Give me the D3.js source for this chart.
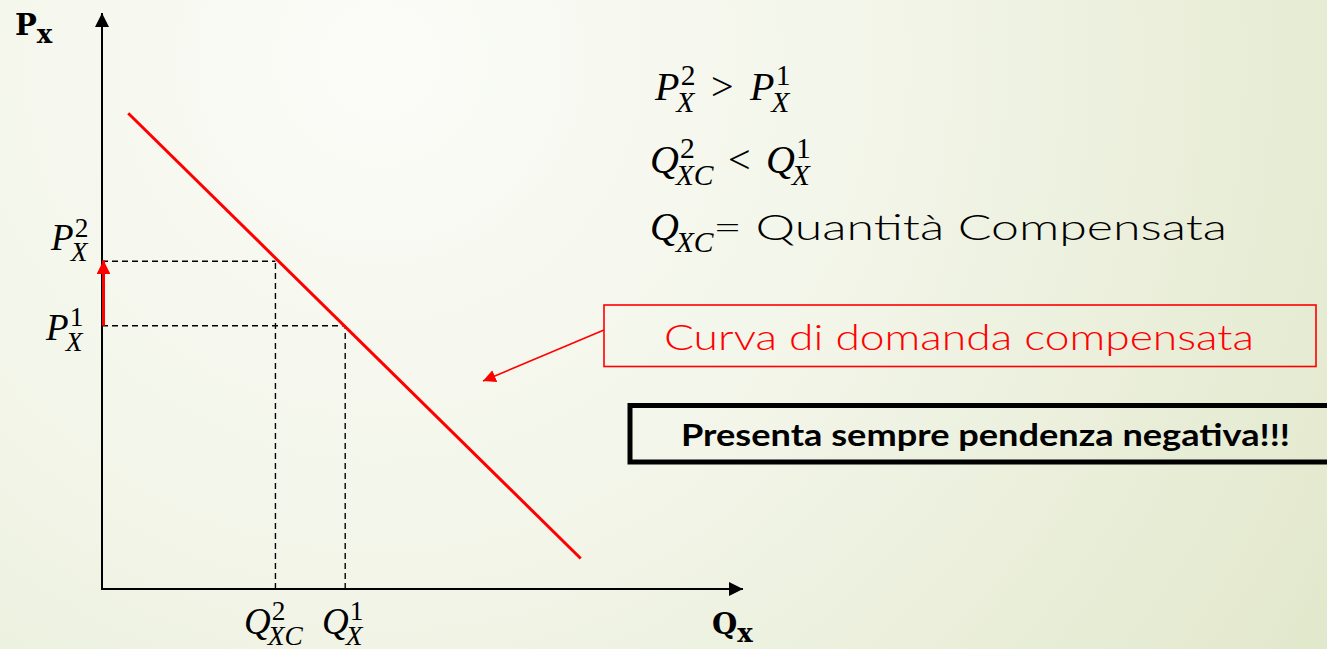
<!DOCTYPE html>
<html>
<head>
<meta charset="utf-8">
<script src="https://cdn.jsdelivr.net/npm/d3@7"></script>
<style>
  html, body { margin: 0; padding: 0; overflow: hidden; background: #f3f5ea; }
  svg { display: block; }
</style>
</head>
<body>
<svg id="chart" width="1327" height="649"></svg>
<script>
// ---------------- DATA ----------------
const quantityDomain = [0, 100];
const priceDomain = [0, 100];
// compensated demand curve endpoints (Q, P)
const demandQ = [4.1, 74.8];
const demandP = [82.6, 5.3];
// price levels: P1, P2
const priceLevels = [45.7, 56.9];
const priceLabels = ["1", "2"];
// quantity levels: Q1 (at P1), Q2 (at P2)
const quantityLevels = [38.0, 27.1];
const quantityLabelSubs = ["X", "XC"];
const quantityLabelSups = ["1", "2"];
const axisLabelP = ["P", "x"];
const axisLabelQ = ["Q", "x"];
const boxRedText = "Curva di domanda compensata";
const boxBlackText = "Presenta sempre pendenza negativa!!!";
const defText = "= Quantità Compensata";

// ---------------- SETUP ----------------
const svg = d3.select("#chart");
const W = 1327, H = 649;
const MATH = "'Liberation Serif', 'DejaVu Serif', serif";
const SANS = "Lato, 'Open Sans', sans-serif";

const defs = svg.append("defs");
const grad = defs.append("radialGradient").attr("id", "bg")
  .attr("gradientUnits", "userSpaceOnUse")
  .attr("cx", 380).attr("cy", 60).attr("r", 1150);
grad.append("stop").attr("offset", "0").attr("stop-color", "#fbfcf8");
grad.append("stop").attr("offset", "0.45").attr("stop-color", "#f2f5e8");
grad.append("stop").attr("offset", "1").attr("stop-color", "#e1e7ca");
svg.append("rect").attr("width", W).attr("height", H).attr("fill", "url(#bg)");

defs.append("marker").attr("id", "arrBlack").attr("viewBox", "0 0 10 10")
  .attr("refX", 10).attr("refY", 5).attr("markerWidth", 7).attr("markerHeight", 7)
  .attr("markerUnits", "strokeWidth").attr("orient", "auto")
  .append("path").attr("d", "M0,0 L10,5 L0,10 Z").attr("fill", "#000");
defs.append("marker").attr("id", "arrRed").attr("viewBox", "0 0 10 10")
  .attr("refX", 10).attr("refY", 5).attr("markerWidth", 4.6).attr("markerHeight", 4.6)
  .attr("markerUnits", "strokeWidth").attr("orient", "auto")
  .append("path").attr("d", "M0,0 L10,5 L0,10 Z").attr("fill", "#ff0000");
defs.append("marker").attr("id", "arrRedThin").attr("viewBox", "0 0 10 10")
  .attr("refX", 10).attr("refY", 5).attr("markerWidth", 8).attr("markerHeight", 8)
  .attr("markerUnits", "strokeWidth").attr("orient", "auto")
  .append("path").attr("d", "M0,0 L10,5 L0,10 Z").attr("fill", "#ff0000");

const x = d3.scaleLinear().domain(quantityDomain).range([102, 742]);
const y = d3.scaleLinear().domain(priceDomain).range([589, 13]);

// ---------------- AXES ----------------
svg.append("line").attr("x1", x(0)).attr("y1", y(0) + 1).attr("x2", x(0)).attr("y2", y(100))
  .attr("stroke", "#000").attr("stroke-width", 2).attr("marker-end", "url(#arrBlack)");
svg.append("line").attr("x1", x(0) - 1).attr("y1", y(0)).attr("x2", x(100) + 1).attr("y2", y(0))
  .attr("stroke", "#000").attr("stroke-width", 2).attr("marker-end", "url(#arrBlack)");

// ---------------- DASHED GUIDES ----------------
priceLevels.forEach((p, i) => {
  const q = quantityLevels[i];
  svg.append("line").attr("x1", x(0)).attr("x2", x(q)).attr("y1", y(p)).attr("y2", y(p))
    .attr("stroke", "#000").attr("stroke-width", 1.4).attr("stroke-dasharray", "6,4");
  svg.append("line").attr("x1", x(q)).attr("x2", x(q)).attr("y1", y(0)).attr("y2", y(p))
    .attr("stroke", "#000").attr("stroke-width", 1.4).attr("stroke-dasharray", "6,4");
});

// ---------------- DEMAND CURVE ----------------
const demand = demandQ.map((q, i) => [q, demandP[i]]);
svg.append("path").datum(demand)
  .attr("d", d3.line().x(d => x(d[0])).y(d => y(d[1])))
  .attr("fill", "none").attr("stroke", "#ff0000").attr("stroke-width", 3);

// red arrow on price axis: P1 -> P2
svg.append("line").attr("x1", x(0) + 1.5).attr("x2", x(0) + 1.5)
  .attr("y1", y(priceLevels[0])).attr("y2", y(priceLevels[1]) - 1)
  .attr("stroke", "#ff0000").attr("stroke-width", 3).attr("marker-end", "url(#arrRed)");

// ---------------- MATH LABEL HELPER ----------------
function mathTerm(x0, base, sup, sub, fs) {
  const b = svg.append("text").attr("x", x0).attr("y", base.y)
    .attr("font-family", MATH).attr("font-style", "italic").attr("font-size", fs)
    .attr("fill", "#000").text(base.t);
  const w = b.node().getComputedTextLength();
  const ss = fs * 0.74;
  let right = x0 + w;
  if (sup) {
    const s = svg.append("text").attr("x", x0 + w + fs * 0.03).attr("y", base.y - fs * 0.37)
      .attr("font-family", MATH).attr("font-size", ss).attr("fill", "#000").text(sup);
    right = Math.max(right, x0 + w + fs * 0.03 + s.node().getComputedTextLength());
  }
  if (sub) {
    const s = svg.append("text").attr("x", x0 + w - fs * 0.08)
      .attr("y", base.y + fs * 0.30)
      .attr("font-family", MATH).attr("font-style", "italic").attr("font-size", ss)
      .attr("fill", "#000").text(sub);
    right = Math.max(right, x0 + w - fs * 0.08 + s.node().getComputedTextLength());
  }
  return right;
}

// price labels on the axis
mathTerm(51, { t: "P", y: y(priceLevels[1]) - 11 }, priceLabels[1], "X", 37);
mathTerm(46, { t: "P", y: y(priceLevels[0]) + 14 }, priceLabels[0], "X", 37);

// quantity labels under the axis
mathTerm(244, { t: "Q", y: 634 }, quantityLabelSups[1], quantityLabelSubs[1], 37);
mathTerm(322, { t: "Q", y: 634 }, quantityLabelSups[0], quantityLabelSubs[0], 37);

// axis titles
function axisTitle(x0, yb, lab) {
  const t = svg.append("text").attr("x", x0).attr("y", yb)
    .attr("font-family", "'DejaVu Serif', serif").attr("font-weight", "bold")
    .attr("font-size", 29).attr("fill", "#000");
  t.append("tspan").text(lab[0]);
  t.append("tspan").attr("dy", 8).attr("font-size", 26).text(lab[1]);
}
axisTitle(15, 35, axisLabelP);
axisTitle(712, 634, axisLabelQ);

// ---------------- RIGHT-SIDE STATEMENTS ----------------
// line 1: P_X^2 > P_X^1
mathTerm(655, { t: "P", y: 100 }, "2", "X", 40);
svg.append("text").attr("x", 711).attr("y", 100).attr("font-family", MATH)
  .attr("font-size", 40).attr("fill", "#000").text(">");
mathTerm(750, { t: "P", y: 100 }, "1", "X", 40);

// line 2: Q_XC^2 < Q_X^1
mathTerm(650, { t: "Q", y: 173 }, "2", "XC", 40);
svg.append("text").attr("x", 728).attr("y", 173).attr("font-family", MATH)
  .attr("font-size", 40).attr("fill", "#000").text("<");
mathTerm(766, { t: "Q", y: 173 }, "1", "X", 40);

// line 3: Q_XC = Quantità Compensata
mathTerm(650, { t: "Q", y: 240 }, null, "XC", 40);
svg.append("text").attr("x", 713).attr("y", 240).attr("font-family", SANS)
  .attr("font-size", 35).attr("font-weight", 300).attr("fill", "#000")
  .attr("textLength", 514).attr("lengthAdjust", "spacingAndGlyphs").text(defText);

// ---------------- RED CALLOUT BOX ----------------
svg.append("rect").attr("x", 604).attr("y", 305).attr("width", 712).attr("height", 61.5)
  .attr("fill", "none").attr("stroke", "#ff0000").attr("stroke-width", 1.6);
svg.append("text").attr("x", 664).attr("y", 350).attr("font-family", SANS)
  .attr("font-size", 35).attr("font-weight", 300).attr("fill", "#ff0000")
  .attr("textLength", 590).attr("lengthAdjust", "spacingAndGlyphs").text(boxRedText);
svg.append("line").attr("x1", 604).attr("y1", 330).attr("x2", 483).attr("y2", 381)
  .attr("stroke", "#ff0000").attr("stroke-width", 1.6).attr("marker-end", "url(#arrRedThin)");

// ---------------- BLACK BOX ----------------
svg.append("rect").attr("x", 630).attr("y", 405.5).attr("width", 760).attr("height", 56.5)
  .attr("fill", "none").attr("stroke", "#000").attr("stroke-width", 5);
svg.append("text").attr("x", 681).attr("y", 445.5).attr("font-family", SANS)
  .attr("font-weight", "bold").attr("font-size", 31).attr("fill", "#000")
  .attr("textLength", 609).attr("lengthAdjust", "spacingAndGlyphs").text(boxBlackText);
</script>
</body>
</html>
